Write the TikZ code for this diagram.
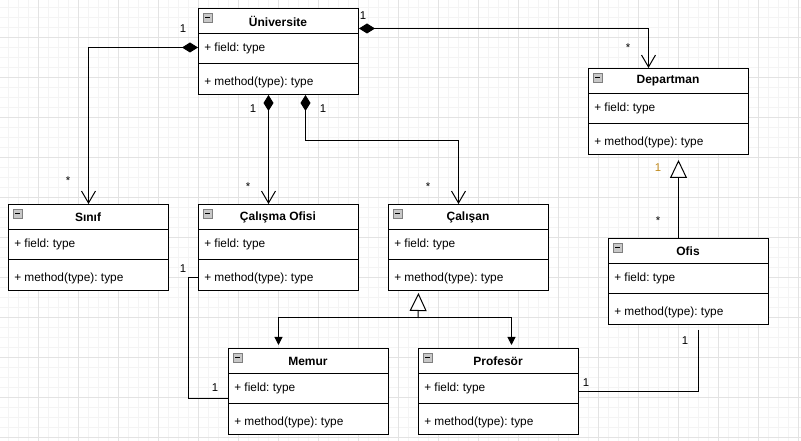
\documentclass[tikz,border=0pt]{standalone}
\usepackage{fontspec}
\setmainfont{Liberation Sans}
\usetikzlibrary{arrows.meta, positioning, calc}

\definecolor{gridmajor}{HTML}{E3E3E3}
\definecolor{gridminor}{HTML}{F4F4F4}
\definecolor{iconfill}{HTML}{C8C8C8}
\definecolor{icondraw}{HTML}{7F7F7F}
\definecolor{multorange}{HTML}{C08A1E}

\frenchspacing

\begin{document}
\begin{tikzpicture}[x=0.75pt, y=-0.75pt,
    every node/.style = {font=\fontsize{8.9}{10}\selectfont},
    classbox/.style = {draw, line width=0.75pt, fill=white, anchor=north west,
                       minimum width=120pt, minimum height=64.5pt, inner sep=0pt},
    classtitle/.style = {anchor=center, inner sep=0pt, font=\bfseries\fontsize{9}{11}\selectfont},
    member/.style = {anchor=west, inner sep=0pt},
    boxline/.style = {line width=0.75pt},
    iconbox/.style = {draw=icondraw, fill=iconfill, line width=0.6pt},
    iconminus/.style = {line width=0.75pt},
    mult/.style = {anchor=center, inner sep=0pt, font=\fontsize{8.5}{10}\selectfont},
    conn/.style = {line width=0.75pt},
    comp/.style = {arrows={Diamond[length=12pt,width=7.5pt]-Straight Barb[length=9pt,width=10.5pt]}},
    inherit/.style = {arrows={-Triangle[open,length=13.5pt,width=12.75pt,fill=white]}},
    sub/.style = {arrows={-Triangle[length=6pt,width=6pt]}}]

    \useasboundingbox (0,0) rectangle (801,441);
    \fill[white] (0,0) rectangle (801,441);
    % grid
    \foreach \gx in {8,18,...,798} \draw[gridminor, line width=0.75pt] (\gx,0) -- (\gx,441);
    \foreach \gy in {8,18,...,438} \draw[gridminor, line width=0.75pt] (0,\gy) -- (801,\gy);
    \foreach \gx in {38,78,...,798} \draw[gridmajor, line width=0.75pt] (\gx,0) -- (\gx,441);
    \foreach \gy in {38,78,...,438} \draw[gridmajor, line width=0.75pt] (0,\gy) -- (801,\gy);

    % classes
    \foreach \nm/\x/\y/\ttl in {univ/198/8/Üniversite, dept/588/68/Departman, sinif/8/204/Sınıf,
                               calofis/198/204/Çalışma Ofisi, calisan/388/204/Çalışan, ofis/608/238/Ofis,
                               memur/228/348/Memur, prof/418/348/Profesör} {
        \node[classbox] (\nm) at (\x,\y) {};
        \node[classtitle] (\nm-t) at (\x+80,\y+13) {\ttl};
        \node[member] (\nm-f) at (\x+6,\y+40.5) {+ field: type};
        \node[member] (\nm-m) at (\x+6,\y+74.5) {+ method(type): type};
        \draw[boxline] (\x,\y+26) -- ++(160,0);
        \draw[boxline] (\x,\y+56) -- ++(160,0);
        \draw[iconbox] (\x+5,\y+5) rectangle ++(9,9);
        \draw[iconminus] (\x+7,\y+9.5) -- ++(5,0);
    }

    % compositions
    \draw[conn, comp] ([yshift=3pt]univ.west) -| (sinif.north);
    \draw[conn, comp] ([yshift=17.25pt]univ.east) -| ([xshift=-15pt]dept.north);
    \draw[conn, comp] ([xshift=-7.5pt]univ.south) -- ([xshift=-7.5pt]calofis.north);
    \draw[conn, comp] ([xshift=20.25pt]univ.south) -- ++(0,46) -| ([xshift=-7.5pt]calisan.north);

    % generalizations
    \draw[conn, inherit, shorten >=3.75pt] ([xshift=-7.5pt]ofis.north) -- ([xshift=7.5pt]dept.south);
    \coordinate (split) at (418,318);
    \draw[conn, inherit, shorten >=1.5pt] (split) -- ([xshift=-37.5pt]calisan.south);
    \draw[conn, sub, shorten >=2.25pt] (split) -| ([xshift=-22.5pt]memur.north);
    \draw[conn, sub, shorten >=2.25pt] (split) -| ([xshift=9.75pt]prof.north);

    % associations
    \draw[conn] ([yshift=-22.5pt]calofis.west) -- ++(-10,0) |- ([yshift=-5.25pt]memur.west);
    \draw[conn] ([xshift=7.5pt,yshift=-3.75pt]ofis.south) |- (prof.east);

    % multiplicities
    \node[mult] (m1) at (183,29) {1};
    \node[mult] (m2) at (68,181) {*};
    \node[mult] (m3) at (363,16) {1};
    \node[mult] (m4) at (628,48) {*};
    \node[mult] (m5) at (253,109) {1};
    \node[mult] (m6) at (248,187) {*};
    \node[mult] (m7) at (323,109) {1};
    \node[mult] (m8) at (428,187) {*};
    \node[mult, text=multorange] (m9) at (658,168) {1};
    \node[mult] (m10) at (658,221) {*};
    \node[mult] (m11) at (183,269) {1};
    \node[mult] (m12) at (215,388) {1};
    \node[mult] (m13) at (685,341) {1};
    \node[mult] (m14) at (586,383) {1};
\end{tikzpicture}
\end{document}
